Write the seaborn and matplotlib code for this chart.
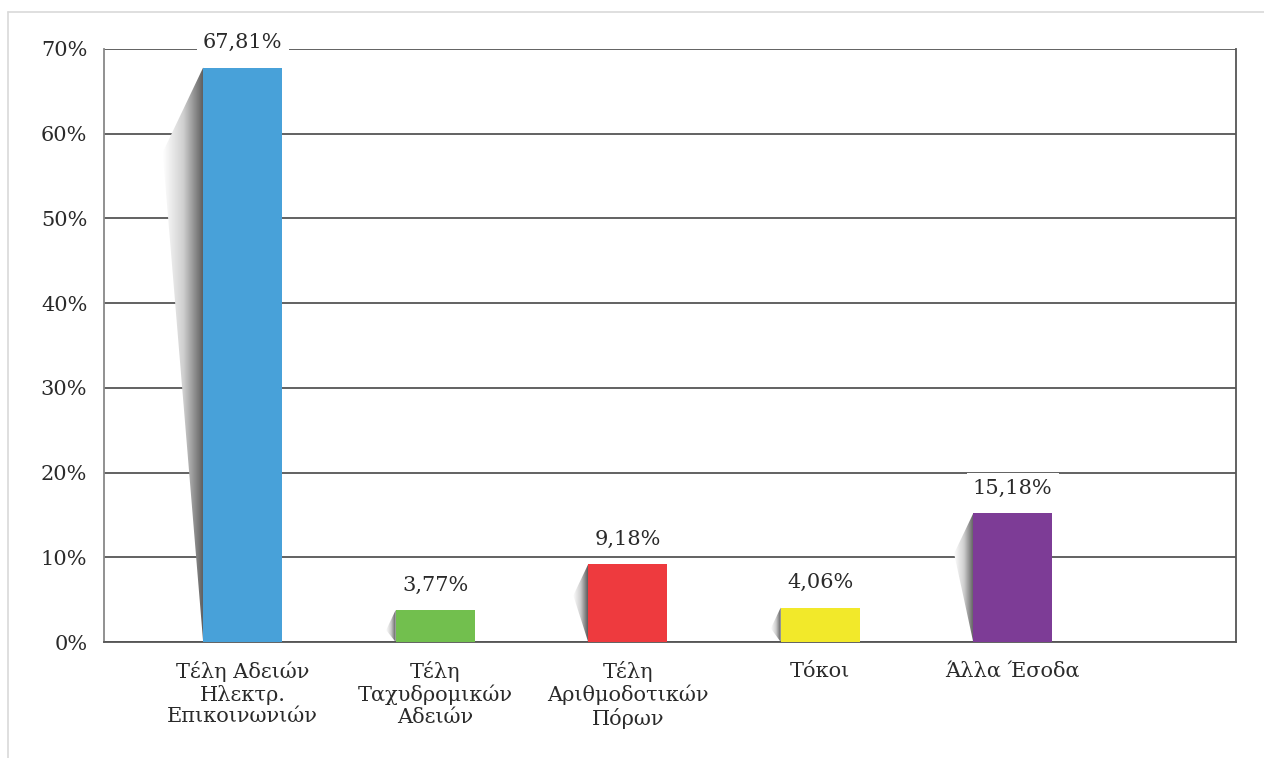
import numpy as np
import pandas as pd
import matplotlib
matplotlib.use("Agg")
import matplotlib.pyplot as plt
import seaborn as sns
from matplotlib.patches import Polygon
from matplotlib.lines import Line2D

categories = ["Τέλη Αδειών\nΗλεκτρ.\nΕπικοινωνιών",
              "Τέλη\nΤαχυδρομικών\nΑδειών",
              "Τέλη\nΑριθμοδοτικών\nΠόρων",
              "Τόκοι",
              "Άλλα Έσοδα"]
values = [67.81, 3.77, 9.18, 4.06, 15.18]
value_labels = ["67,81%", "3,77%", "9,18%", "4,06%", "15,18%"]
colors = ["#48A1D9", "#72BF4E", "#EE3A3E", "#F2E92A", "#7D3C96"]
yticks = [0, 10, 20, 30, 40, 50, 60, 70]
ytick_labels = ["0%", "10%", "20%", "30%", "40%", "50%", "60%", "70%"]

sns.set_theme(style="white")
plt.rcParams["font.family"] = ["DejaVu Serif"]

fig = plt.figure(figsize=(12.64, 7.58), dpi=100)
ax = fig.add_axes([104/1264, 1-642/758, (1236-104)/1264, (642-49)/758])

df = pd.DataFrame({"cat": categories, "val": values})
bar_w = 0.41
sns.barplot(data=df, x="cat", y="val", hue="cat", palette=colors, width=bar_w,
            legend=False, ax=ax, zorder=3, saturation=1, edgecolor="none")

ax.set_xlim(-0.72, 5.16)
ax.set_ylim(0, 70)
ax.set_yticks(yticks)
ax.set_yticklabels(ytick_labels, fontsize=15, color="#2a2a2a")
ax.tick_params(axis="y", length=0, pad=12)
ax.tick_params(axis="x", length=0, pad=14, labelsize=15, labelcolor="#2a2a2a")
for lbl in ax.get_xticklabels():
    lbl.set_linespacing(1.15)
ax.set_xlabel("")
ax.set_ylabel("")

for y in yticks:
    ax.axhline(y, color="#555555", lw=1.3, zorder=1)

ax.spines["top"].set_visible(False)
ax.spines["left"].set_color("#888888")
ax.spines["left"].set_linewidth(1.3)
ax.spines["right"].set_color("#555555")
ax.spines["right"].set_linewidth(1.3)
ax.spines["bottom"].set_color("#555555")
ax.spines["bottom"].set_linewidth(1.3)

# decorative gradient shadows to the left of each bar
grad = np.linspace(0, 1, 256).reshape(1, -1)
cmap = matplotlib.colors.LinearSegmentedColormap.from_list("sh", ["#ffffff", "#cfcfcf", "#5a5a5a"])
for i, v in enumerate(values):
    xl = i - bar_w / 2
    dx = 0.21 * np.sqrt(v / max(values))
    dy = dx * 47.7
    poly = Polygon([(xl, v), (xl - dx, v - dy), (xl, 0)], closed=True,
                   facecolor="none", edgecolor="none")
    ax.add_patch(poly)
    im = ax.imshow(grad, extent=[xl - dx, xl, 0, v], aspect="auto", cmap=cmap,
                   zorder=2, interpolation="bicubic")
    im.set_clip_path(poly)

for i, (v, t) in enumerate(zip(values, value_labels)):
    ax.annotate(t, (i, v), xytext=(0, 18), textcoords="offset points",
                ha="center", va="center", fontsize=15, color="#2a2a2a", zorder=5,
                bbox=dict(boxstyle="square,pad=0.3", fc="white", ec="none"))

ax.set_xlim(-0.72, 5.16)
ax.set_ylim(0, 70)

# light outer frame
fig.add_artist(Line2D([8/1264, 8/1264], [0, 1-12/758], color="#d9d9d9", lw=1.2, transform=fig.transFigure))
fig.add_artist(Line2D([8/1264, 1], [1-12/758, 1-12/758], color="#d9d9d9", lw=1.2, transform=fig.transFigure))

fig.savefig("out.png", dpi=100)
